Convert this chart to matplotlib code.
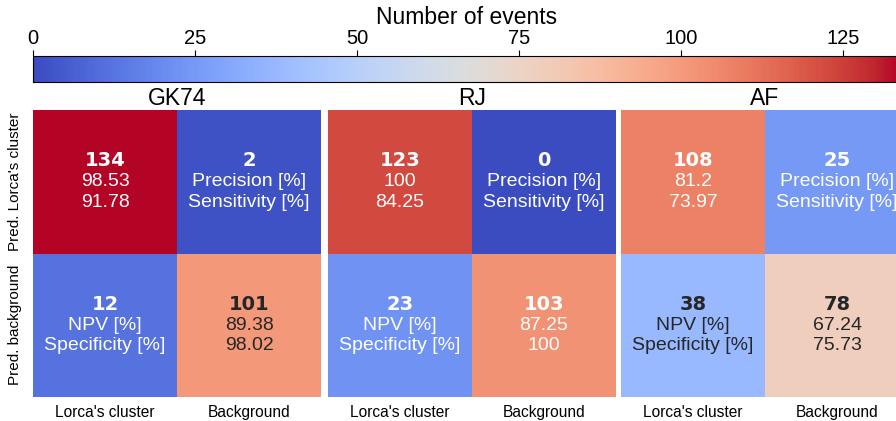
import numpy as np
import matplotlib
matplotlib.use("Agg")
import matplotlib.pyplot as plt
from matplotlib import colors as mcolors

titles = ["GK74", "RJ", "AF"]
counts = {
    "GK74": [[134, 2], [12, 101]],
    "RJ": [[123, 0], [23, 103]],
    "AF": [[108, 25], [38, 78]],
}
precision = {"GK74": "98.53", "RJ": "100", "AF": "81.2"}
sensitivity = {"GK74": "91.78", "RJ": "84.25", "AF": "73.97"}
npv = {"GK74": "89.38", "RJ": "87.25", "AF": "67.24"}
specificity = {"GK74": "98.02", "RJ": "100", "AF": "75.73"}
x_labels = ["Lorca's cluster", "Background"]
y_labels = ["Pred. Lorca's cluster", "Pred. background"]
cbar_ticks = [0, 25, 50, 75, 100, 125]
cbar_label = "Number of events"

vmin, vmax = 0, 134
cmap = plt.get_cmap("coolwarm")
norm = mcolors.Normalize(vmin=vmin, vmax=vmax)

plt.rcParams['font.family'] = ['Liberation Sans', 'DejaVu Sans']

W, H = 896, 421
fig = plt.figure(figsize=(W / 100, H / 100), dpi=100)

def rel_lum(c):
    rgb = np.array(mcolors.to_rgb(c))
    rgb = np.where(rgb <= .03928, rgb / 12.92, ((rgb + .055) / 1.055) ** 2.4)
    return rgb.dot([.2126, .7152, .0722])

lefts = [33, 328, 621]
pw = 288
bottom = 1 - 397 / H
ph = 287 / H
fs = 14
off = 0.148

for i, name in enumerate(titles):
    ax = fig.add_axes([lefts[i] / W, bottom, pw / W, ph])
    data = np.array(counts[name])
    ax.pcolormesh(np.arange(3), np.arange(3), data, cmap=cmap, norm=norm,
                  edgecolors='none', antialiased=False)
    ax.set_xlim(0, 2)
    ax.set_ylim(2, 0)
    for s in ax.spines.values():
        s.set_visible(False)
    ax.set_xticks([0.5, 1.5])
    ax.set_xticklabels(x_labels, fontsize=11.2)
    ax.tick_params(length=0, pad=5.5)
    if i == 0:
        ax.set_yticks([0.5, 1.5])
        ax.set_yticklabels(y_labels, fontsize=11, rotation=90, va='center')
        ax.tick_params(axis='y', pad=8)
    else:
        ax.set_yticks([])
    ax.set_title(name, fontsize=16.5, pad=2)
    lines = {
        (0, 0): [precision[name], sensitivity[name]],
        (0, 1): ["Precision [%]", "Sensitivity [%]"],
        (1, 0): ["NPV [%]", "Specificity [%]"],
        (1, 1): [npv[name], specificity[name]],
    }
    pnorm = mcolors.Normalize(vmin=0, vmax=data.max())
    for r in range(2):
        for c in range(2):
            v = data[r, c]
            col = cmap(pnorm(v))
            tc = ".15" if rel_lum(col) > .408 else "w"
            cx, cy = c + 0.5, r + 0.5
            ax.text(cx, cy - off, str(v), ha='center', va='center', fontsize=fs,
                    fontweight='bold', color=tc, family='DejaVu Sans')
            ax.text(cx, cy, lines[(r, c)][0], ha='center', va='center', fontsize=fs, color=tc)
            ax.text(cx, cy + off * 0.96, lines[(r, c)][1], ha='center', va='center', fontsize=fs, color=tc)

cax = fig.add_axes([33 / W, 1 - 82 / H, (901 - 33) / W, 26 / H])
sm = matplotlib.cm.ScalarMappable(norm=norm, cmap=cmap)
cb = fig.colorbar(sm, cax=cax, orientation='horizontal', ticks=cbar_ticks)
cax.xaxis.set_ticks_position('top')
cax.xaxis.set_label_position('top')
cb.set_label(cbar_label, fontsize=16.5, labelpad=3)
cax.tick_params(labelsize=14.5, length=4, width=0.8, pad=2)
cb.outline.set_linewidth(0.8)

fig.savefig("out.png", dpi=100)
